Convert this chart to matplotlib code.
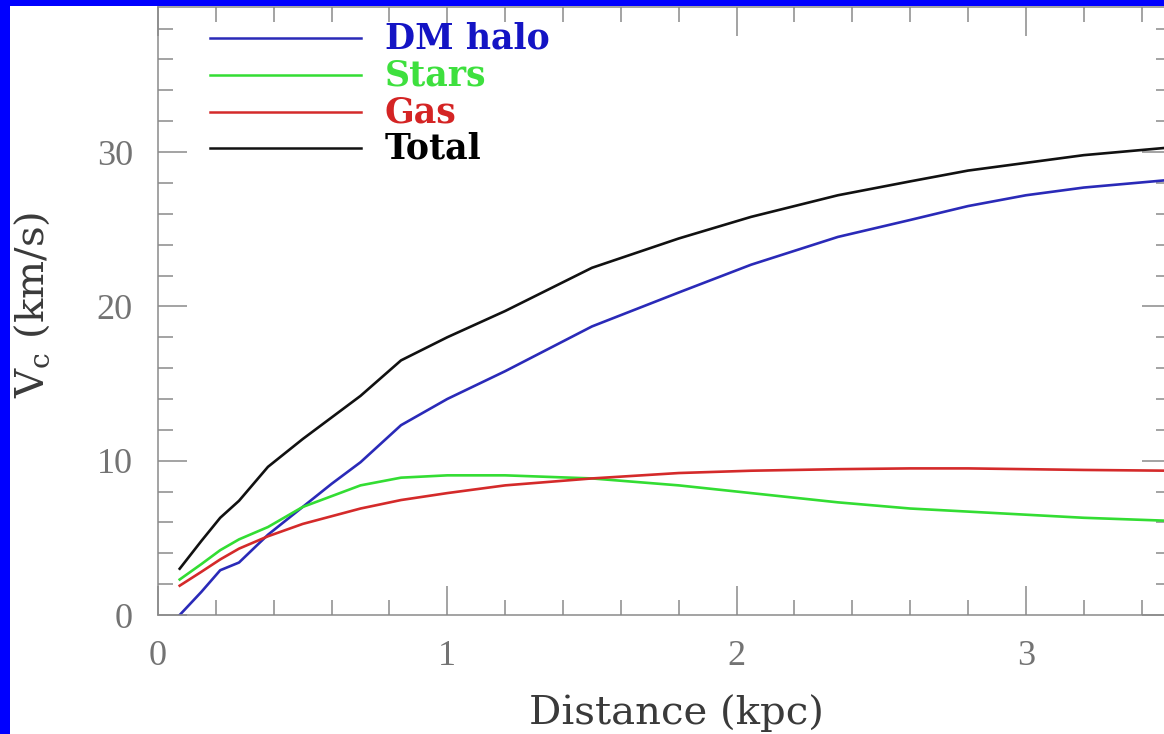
import matplotlib.pyplot as plt
from matplotlib.patches import Rectangle
from matplotlib.ticker import MultipleLocator

plt.rcParams['mathtext.fontset'] = 'dejavuserif'

# rotation curve components, radius in kpc, velocity in km/s
r = [0.075, 0.15, 0.215, 0.28, 0.38, 0.5, 0.6, 0.7, 0.84, 1.0, 1.2, 1.5,
     1.8, 2.05, 2.35, 2.6, 2.8, 3.0, 3.2, 3.5]
v_halo = [0.0, 1.5, 2.9, 3.4, 5.2, 7.0, 8.5, 9.9, 12.3, 14.0, 15.8, 18.7,
          20.9, 22.7, 24.5, 25.6, 26.5, 27.2, 27.7, 28.2]
v_stars = [2.3, 3.3, 4.2, 4.9, 5.7, 7.0, 7.7, 8.4, 8.9, 9.05, 9.05, 8.85,
           8.4, 7.9, 7.3, 6.9, 6.7, 6.5, 6.3, 6.1]
v_gas = [1.9, 2.8, 3.6, 4.3, 5.1, 5.9, 6.4, 6.9, 7.45, 7.9, 8.4, 8.85,
         9.2, 9.35, 9.45, 9.5, 9.5, 9.45, 9.4, 9.35]
v_total = [3.0, 4.8, 6.3, 7.4, 9.6, 11.4, 12.8, 14.2, 16.5, 18.0, 19.7, 22.5,
           24.4, 25.8, 27.2, 28.1, 28.8, 29.3, 29.8, 30.3]

names = ['DM halo', 'Stars', 'Gas', 'Total']
series = [v_halo, v_stars, v_gas, v_total]
line_cols = ['#2a2ab8', '#33dd33', '#d42a2a', '#111111']
text_cols = ['#1414c4', '#3ee03e', '#d42424', '#000000']

fig = plt.figure(figsize=(11.64, 7.34), dpi=100, facecolor='#0000ff')
fig.patches.append(Rectangle((10 / 1164, 0), 1, 1 - 6 / 734, transform=fig.transFigure,
                             facecolor='white', edgecolor='none', zorder=-1))

ax = fig.add_axes([158 / 1164, 119 / 734, 1012.6 / 1164, 608 / 734])
for v, c in zip(series, line_cols):
    ax.plot(r, v, color=c, lw=1.9, solid_joinstyle='round')

ax.set_xlim(0, 3.5)
ax.set_ylim(0, 39.4)
ax.xaxis.set_major_locator(MultipleLocator(1))
ax.xaxis.set_minor_locator(MultipleLocator(0.2))
ax.yaxis.set_major_locator(MultipleLocator(10))
ax.yaxis.set_minor_locator(MultipleLocator(2))

gray = '#8a8a8a'
for s in ax.spines.values():
    s.set_color(gray)
    s.set_linewidth(1.1)
ax.tick_params(which='both', direction='in', top=True, right=True, color=gray, width=1.1)
ax.tick_params(which='major', length=21, pad=18)
ax.tick_params(which='minor', length=11)
for lab in ax.get_xticklabels() + ax.get_yticklabels():
    lab.set_family('Liberation Serif')
    lab.set_fontsize(26)
    lab.set_color('#737373')

ax.set_xlabel('Distance (kpc)', family='DejaVu Serif', fontsize=29, color='#3a3a3a', va='center')
ax.xaxis.set_label_coords(0.512, -0.161)
ax.set_ylabel(r'V$_{\rm c}$ (km/s)', family='DejaVu Serif', fontsize=29, color='#3a3a3a', va='center')
ax.yaxis.set_label_coords(-0.124, 0.51)

# key in the upper left corner
ys = [0.949, 0.888, 0.827, 0.768]
for name, y, lc, tc in zip(names, ys, line_cols, text_cols):
    ax.plot([0.051, 0.20], [y, y], color=lc, lw=1.8, transform=ax.transAxes)
    ax.text(0.224, y, name, transform=ax.transAxes, color=tc, fontsize=25,
            family='DejaVu Serif', fontweight='bold', va='center', ha='left')

fig.savefig('out.png', dpi=100, facecolor=fig.get_facecolor())
